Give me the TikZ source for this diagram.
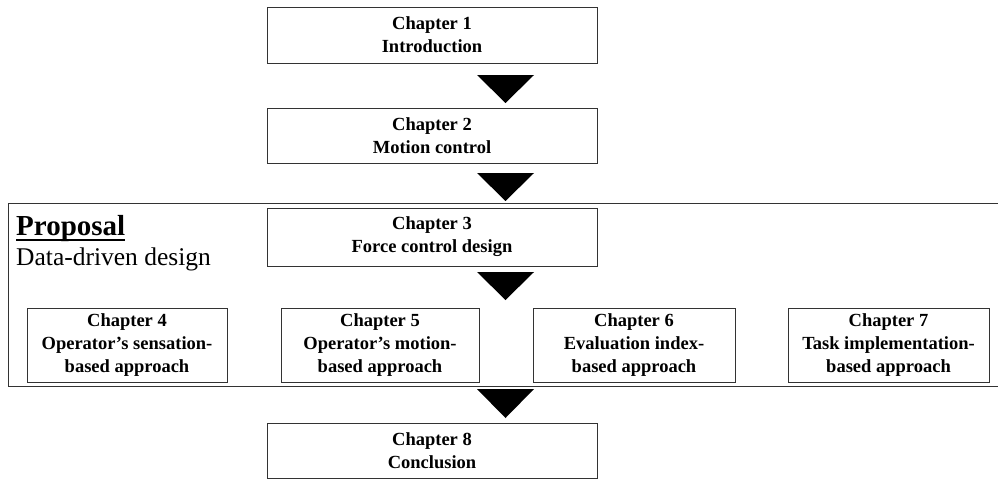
\documentclass[tikz,border=0pt]{standalone}
\usepackage{fontspec}
\setmainfont{Liberation Serif}
\usetikzlibrary{calc}
\begin{document}
\begin{tikzpicture}[x=1pt,y=-1pt,
  chap/.style={draw=black!80,line width=1pt,fill=white,align=center,inner sep=0pt,
    font=\fontsize{18.5}{23}\selectfont\bfseries},
  wide/.style={chap,minimum width=330pt},
  small/.style={chap,minimum height=74pt},
  tri/.style={fill=black}]
\useasboundingbox (0,0) rectangle (998,480);
% proposal frame
\draw[black!80,line width=1pt] (998,203) -- (8,203) -- (8,386) -- (998,386);
\node[anchor=base west,inner sep=0pt,font=\fontsize{29}{30}\selectfont\bfseries] (prop) at (16,235) {Proposal};
\draw[line width=1.8pt] ($(prop.base west)+(0,5)$) -- ($(prop.base east)+(0,5)$);
\node[anchor=base west,inner sep=0pt,font=\fontsize{25.5}{28}\selectfont] (dd) at (16,265) {Data-driven design};
% chapters
\node[wide,minimum height=56pt] (c1) at (432,35) {Chapter 1\\Introduction};
\node[wide,minimum height=55pt] (c2) at (432,135.5) {Chapter 2\\Motion control};
\node[wide,minimum height=58pt] (c3) at (432,237) {Chapter 3\\Force control design};
\node[small,minimum width=200pt] (c4) at (127,345) {Chapter 4\\Operator's sensation-\\based approach};
\node[small,minimum width=198pt] (c5) at (380,345) {Chapter 5\\Operator's motion-\\based approach};
\node[small,minimum width=202pt] (c6) at (634,345) {Chapter 6\\Evaluation index-\\based approach};
\node[small,minimum width=201pt] (c7) at (888.5,345) {Chapter 7\\Task implementation-\\based approach};
\node[wide,minimum height=55pt] (c8) at (432,450.5) {Chapter 8\\Conclusion};
% triangles
\foreach \t/\a in {75/103,173/201,272/300,389/418}{
  \fill[tri] (477,\t) -- (534,\t) -- (505.5,\a) -- cycle;
}
\end{tikzpicture}
\end{document}
